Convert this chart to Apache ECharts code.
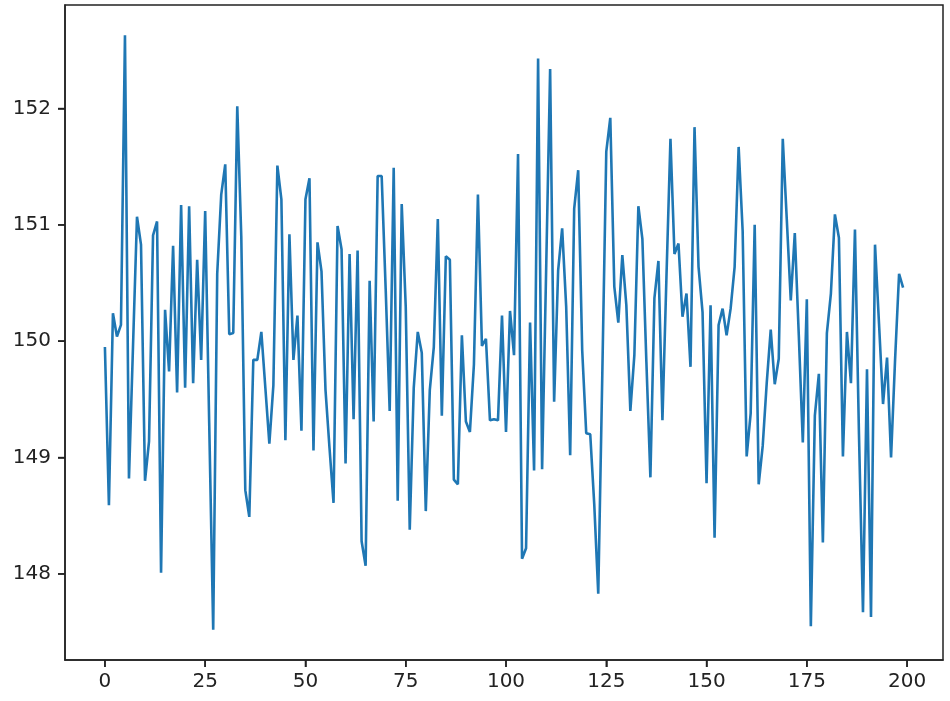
<!DOCTYPE html>
<html>
<head>
<meta charset="utf-8">
<script src="https://cdn.jsdelivr.net/npm/echarts@6/dist/echarts.min.js"></script>
<style>html,body{margin:0;padding:0;background:#fff}#wrap{position:relative;width:950px;height:701px}#c{width:950px;height:701px}#ov{position:absolute;left:0;top:0;pointer-events:none;z-index:10}</style>
</head>
<body>
<div id="wrap"><div id="c"></div><canvas id="ov" width="950" height="701"></canvas></div>
<script>
const values = [
149.95,148.59,150.24,150.04,150.14,152.63,148.82,149.95,151.07,150.83,
148.8,149.14,150.91,151.03,148.01,150.27,149.74,150.82,149.56,151.17,
149.6,151.16,149.64,150.7,149.84,151.12,149.3,147.52,150.58,151.26,
151.52,150.06,150.07,152.02,150.9,148.72,148.49,149.84,149.84,150.08,
149.6,149.12,149.62,151.51,151.22,149.15,150.92,149.84,150.22,149.23,
151.22,151.4,149.06,150.85,150.6,149.58,149.08,148.61,150.99,150.79,
148.95,150.75,149.33,150.78,148.28,148.07,150.52,149.31,151.42,151.42,
150.45,149.4,151.49,148.63,151.18,150.3,148.38,149.6,150.08,149.9,
148.54,149.58,149.95,151.05,149.36,150.73,150.7,148.81,148.77,150.05,
149.31,149.22,149.8,151.26,149.96,150.02,149.32,149.33,149.32,150.22,
149.22,150.26,149.88,151.61,148.13,148.22,150.16,148.89,152.43,148.9,
150.6,152.34,149.48,150.61,150.97,150.3,149.02,151.14,151.47,149.92,
149.21,149.2,148.6,147.83,149.7,151.63,151.92,150.47,150.16,150.74,
150.31,149.4,149.88,151.16,150.88,149.82,148.83,150.37,150.69,149.32,
150.55,151.74,150.75,150.84,150.21,150.41,149.78,151.84,150.64,150.25,
148.78,150.31,148.31,150.14,150.28,150.05,150.28,150.64,151.67,150.95,
149.01,149.38,151.0,148.77,149.1,149.64,150.1,149.63,149.85,151.74,
151.05,150.35,150.93,150.05,149.13,150.36,147.55,149.36,149.72,148.27,
150.07,150.41,151.09,150.89,149.01,150.08,149.64,150.96,149.2,147.67,
149.76,147.63,150.83,150.15,149.46,149.86,149.0,149.84,150.58,150.46
];
const xTicks = [0,25,50,75,100,125,150,175,200];
const yTicks = [148,149,150,151,152];
const xMin = -9.95, xMax = 208.95, yMin = 147.26, yMax = 152.89;

const data = values.map((v,i)=>[i,v]);
const chart = echarts.init(document.getElementById('c'), null, {renderer:'canvas'});
const tickStyle = {color:'#222',width:1.5};
const labelFont = {fontFamily:'DejaVu Sans',fontSize:20,color:'#222'};
chart.setOption({
  animation:false,
  grid:{left:65,right:7,top:5,bottom:41,show:true,borderColor:'#222',borderWidth:1.5},
  xAxis:{type:'value',min:xMin,max:xMax,
    axisLine:{show:true,onZero:false,lineStyle:tickStyle},
    splitLine:{show:false},
    axisTick:{show:true,length:7,lineStyle:tickStyle,customValues:xTicks},
    axisLabel:Object.assign({margin:12,customValues:xTicks},labelFont)},
  yAxis:{type:'value',min:yMin,max:yMax,
    axisLine:{show:true,onZero:false,lineStyle:tickStyle},
    splitLine:{show:false},
    axisTick:{show:true,length:7,lineStyle:tickStyle,customValues:yTicks},
    axisLabel:Object.assign({margin:14,customValues:yTicks},labelFont)},
  series:[{type:'line',data:data,showSymbol:false,symbol:'none',
    lineStyle:{color:'#1f77b4',width:2.6},itemStyle:{color:'#1f77b4'}}]
});
// tick marks, positioned through the chart's own axis scales, on an overlay canvas
function drawTicks(){
  const ov = document.getElementById('ov');
  const ctx = ov.getContext('2d');
  ctx.clearRect(0,0,ov.width,ov.height);
  ctx.strokeStyle = '#222';
  ctx.lineWidth = 1.5;
  const len = 7;
  xTicks.forEach(t=>{
    const p = chart.convertToPixel({gridIndex:0},[t,yMin]);
    if(!p || !isFinite(p[0])) return;
    ctx.beginPath(); ctx.moveTo(p[0],p[1]); ctx.lineTo(p[0],p[1]+len); ctx.stroke();
  });
  yTicks.forEach(t=>{
    const p = chart.convertToPixel({gridIndex:0},[xMin,t]);
    if(!p || !isFinite(p[1])) return;
    ctx.beginPath(); ctx.moveTo(p[0]-len,p[1]); ctx.lineTo(p[0],p[1]); ctx.stroke();
  });
}
drawTicks();
chart.on('finished', drawTicks);
</script>
</body>
</html>
